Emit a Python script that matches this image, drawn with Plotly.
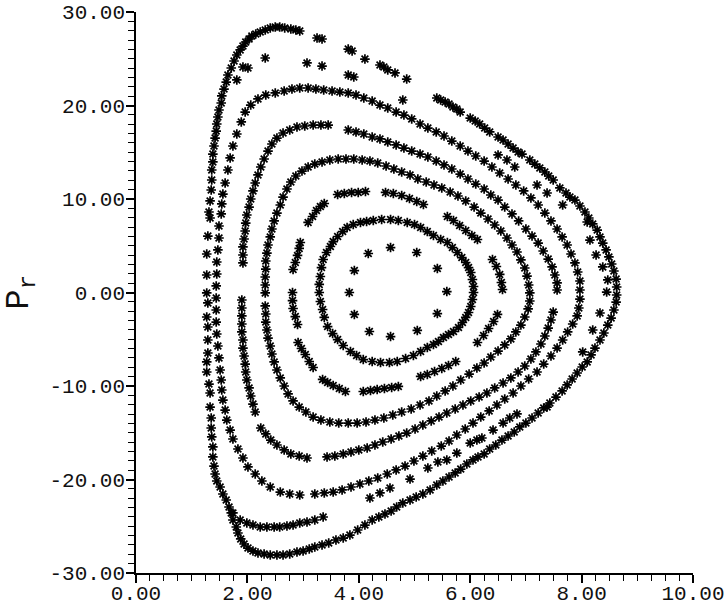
import plotly.graph_objects as go

# ---- axis ticks ----
x_ticks = [0, 2, 4, 6, 8, 10]
x_tick_labels = ["0.00", "2.00", "4.00", "6.00", "8.00", "10.00"]
y_ticks = [-30, -20, -10, 0, 10, 20, 30]
y_tick_labels = ["-30.00", "-20.00", "-10.00", "0.00", "10.00", "20.00", "30.00"]

# ---- Poincare section points (r, p_r) ----
ring_a = [(4.17, 4.17), (4.57, 4.81), (5.04, 4.28), (3.92, 2.35), (5.41, 2.57), (3.83, 0.0),
          (5.58, 0.10), (3.92, -2.35), (5.41, -2.25), (4.19, -4.17), (4.57, -4.71), (5.05, -4.06)]

ring_b = [(3.49, 4.92), (3.54, 5.45), (3.62, 5.99), (3.71, 6.52), (3.79, 6.95), (3.90, 7.27), (4.03, 7.49),
          (4.14, 7.59), (4.26, 7.70), (4.41, 7.81), (4.57, 7.81), (4.71, 7.70), (4.87, 7.49), (5.00, 7.27),
          (5.11, 6.95), (5.23, 6.52), (5.34, 6.10), (5.47, 5.67), (5.59, 5.35), (5.68, 4.81), (5.77, 4.28),
          (5.85, 3.74), (5.92, 3.21), (5.97, 2.67), (6.01, 2.14), (6.04, 1.39), (6.06, 0.64), (6.06, 0.0),
          (6.04, -0.75), (6.01, -1.50), (5.97, -2.14), (5.92, -2.67), (5.86, -3.21), (5.79, -3.74),
          (5.70, -4.17), (5.61, -4.49), (5.52, -4.81), (5.43, -5.24), (5.34, -5.56), (5.23, -5.88),
          (5.11, -6.31), (4.98, -6.74), (4.84, -7.06), (4.69, -7.38), (4.55, -7.49), (4.39, -7.49),
          (4.24, -7.38), (4.08, -7.17), (3.96, -6.74), (3.85, -6.31), (3.72, -5.67), (3.62, -5.03),
          (3.53, -4.39), (3.44, -3.64), (3.38, -2.67), (3.35, -1.82), (3.31, -0.96), (3.29, 0.0),
          (3.29, 0.86), (3.31, 1.71), (3.33, 2.67), (3.36, 3.53), (3.42, 4.28)]

ring_c = [(3.09, 7.49), (3.17, 8.13), (3.24, 8.77), (3.31, 9.20), (3.38, 9.52),
          (3.62, 10.48), (3.74, 10.59), (3.87, 10.70), (3.99, 10.70), (4.12, 10.80),
          (4.48, 10.70), (4.62, 10.59), (4.77, 10.37), (4.91, 10.05), (5.04, 9.73), (5.16, 9.41),
          (5.59, 8.13), (5.70, 7.70), (5.81, 7.17), (5.92, 6.63), (6.03, 6.10), (6.13, 5.67),
          (6.40, 3.53), (6.47, 2.78), (6.53, 1.93), (6.56, 1.07), (6.58, 0.32),
          (6.49, -2.35), (6.42, -3.10), (6.33, -3.85), (6.24, -4.60), (6.13, -5.35),
          (5.74, -7.38), (5.61, -7.81), (5.49, -8.13), (5.36, -8.45), (5.23, -8.77), (5.11, -8.98),
          (4.71, -10.05), (4.59, -10.16), (4.46, -10.27), (4.33, -10.37), (4.21, -10.48), (4.08, -10.59),
          (3.76, -10.59), (3.65, -10.27), (3.54, -9.95), (3.44, -9.63), (3.35, -9.30),
          (3.18, -8.02), (3.11, -7.38), (3.04, -6.63), (2.97, -5.99), (2.91, -5.35),
          (2.90, -3.42), (2.86, -2.57), (2.82, -1.71), (2.81, -0.86), (2.81, 0.0),
          (2.82, 2.46), (2.86, 3.21), (2.90, 3.96), (2.93, 4.71), (2.95, 5.35)]

ring_d = [(2.32, -0.05), (2.32, 0.80), (2.32, 1.66), (2.33, 2.51), (2.33, 3.37), (2.35, 4.22), (2.37, 5.08),
          (2.41, 5.94), (2.44, 6.79), (2.48, 7.65), (2.53, 8.50), (2.59, 9.36), (2.64, 10.21), (2.71, 11.07),
          (2.78, 11.82), (2.87, 12.46), (2.98, 12.99), (3.09, 13.42), (3.21, 13.74), (3.34, 13.96),
          (3.48, 14.17), (3.63, 14.28), (3.77, 14.28), (3.91, 14.28), (4.06, 14.17), (4.20, 14.06),
          (4.34, 13.85), (4.49, 13.53), (4.63, 13.21), (4.77, 12.89), (4.92, 12.57), (5.06, 12.14),
          (5.21, 11.82), (5.35, 11.50), (5.49, 11.18), (5.64, 10.75), (5.78, 10.32), (5.92, 9.79),
          (6.07, 9.14), (6.19, 8.50), (6.32, 7.86), (6.44, 7.22), (6.55, 6.58), (6.66, 5.83), (6.75, 5.08),
          (6.84, 4.33), (6.91, 3.48), (6.98, 2.62), (7.02, 1.76), (7.05, 0.80), (7.07, -0.05), (7.07, -0.91),
          (7.04, -1.76), (6.98, -2.62), (6.91, -3.48), (6.82, -4.22), (6.73, -4.97), (6.62, -5.61),
          (6.50, -6.26), (6.37, -6.90), (6.25, -7.54), (6.12, -8.07), (5.98, -8.72), (5.83, -9.36),
          (5.69, -10.00), (5.55, -10.53), (5.40, -11.07), (5.26, -11.60), (5.10, -12.03), (4.94, -12.46),
          (4.77, -12.78), (4.61, -13.10), (4.45, -13.42), (4.29, -13.64), (4.13, -13.85), (3.97, -13.96),
          (3.81, -13.96), (3.64, -13.96), (3.48, -13.85), (3.32, -13.64), (3.18, -13.32), (3.05, -12.78),
          (2.93, -12.25), (2.82, -11.60), (2.73, -10.85), (2.66, -10.00), (2.59, -9.14), (2.53, -8.29),
          (2.48, -7.43), (2.44, -6.58), (2.41, -5.72), (2.37, -4.87), (2.35, -4.01), (2.33, -3.16),
          (2.33, -2.30), (2.32, -1.44)]

ring_e = [(1.92, 3.16), (1.92, 4.01), (1.92, 4.87), (1.94, 5.72), (1.96, 6.58), (1.97, 7.43), (1.99, 8.29),
          (2.03, 9.14), (2.06, 10.00), (2.10, 10.86), (2.14, 11.71), (2.19, 12.57), (2.24, 13.42),
          (2.30, 14.28), (2.37, 15.13), (2.44, 15.88), (2.53, 16.52), (2.64, 17.06), (2.76, 17.38),
          (2.89, 17.70), (3.03, 17.81), (3.18, 17.91), (3.32, 17.91), (3.45, 17.91),
          (3.81, 17.38), (3.95, 17.17), (4.09, 16.95), (4.24, 16.63), (4.38, 16.42), (4.52, 16.10),
          (4.67, 15.78), (4.81, 15.45), (4.95, 15.13), (5.10, 14.81), (5.24, 14.49), (5.39, 14.06),
          (5.53, 13.64), (5.67, 13.21), (5.82, 12.67), (5.96, 12.14), (6.10, 11.60), (6.25, 11.07),
          (6.37, 10.43), (6.50, 9.89), (6.62, 9.14), (6.75, 8.40), (6.87, 7.65), (7.00, 6.79),
          (7.11, 6.04), (7.22, 5.29), (7.31, 4.44), (7.40, 3.58), (7.47, 2.73), (7.52, 1.87),
          (7.56, 1.02), (7.56, 0.27),
          (7.49, -2.09), (7.45, -2.94), (7.40, -3.80), (7.34, -4.65), (7.27, -5.51), (7.18, -6.36),
          (7.09, -7.11), (6.98, -7.86), (6.86, -8.50), (6.73, -9.14), (6.59, -9.68), (6.44, -10.21),
          (6.30, -10.75), (6.16, -11.18), (6.01, -11.60), (5.87, -12.03), (5.73, -12.46), (5.58, -12.89),
          (5.44, -13.32), (5.30, -13.74), (5.15, -14.17), (5.01, -14.60), (4.86, -15.03), (4.72, -15.35),
          (4.58, -15.67), (4.43, -15.99), (4.29, -16.31), (4.15, -16.63), (4.00, -16.84), (3.86, -17.06),
          (3.72, -17.27), (3.57, -17.49), (3.43, -17.59),
          (3.07, -17.70), (2.93, -17.49), (2.78, -17.27), (2.66, -16.84), (2.53, -16.31), (2.42, -15.78),
          (2.33, -15.13), (2.24, -14.49),
          (2.14, -12.78), (2.10, -11.93), (2.06, -11.07), (2.03, -10.21), (1.99, -9.36), (1.97, -8.50),
          (1.96, -7.65), (1.94, -6.79), (1.92, -5.94), (1.92, -5.08), (1.90, -4.22), (1.90, -3.37),
          (1.90, -2.51), (1.90, -1.66), (1.90, -0.80)]

ring_f = [(2.94, -21.66), (2.76, -21.55), (2.59, -21.34), (2.41, -20.80), (2.26, -20.16), (2.14, -19.41),
          (2.01, -18.66), (1.92, -17.70), (1.83, -16.74), (1.74, -15.67), (1.69, -14.71), (1.63, -13.64),
          (1.60, -12.57), (1.56, -11.50), (1.54, -10.43), (1.53, -9.36), (1.51, -8.29), (1.49, -7.00),
          (1.47, -5.72), (1.45, -4.44), (1.44, -3.16), (1.44, -1.87), (1.44, -0.59), (1.44, 0.70),
          (1.45, 1.98), (1.45, 3.26), (1.47, 4.55), (1.49, 5.83), (1.49, 7.11), (1.53, 8.40), (1.54, 9.47),
          (1.56, 10.53), (1.60, 11.71), (1.65, 13.10), (1.69, 14.39), (1.74, 15.67), (1.81, 16.95),
          (1.89, 18.24), (1.96, 19.30), (2.06, 20.05), (2.19, 20.70), (2.33, 21.12), (2.50, 21.34),
          (2.66, 21.55), (2.80, 21.76), (2.94, 21.87), (3.09, 21.87), (3.23, 21.76), (3.37, 21.66),
          (3.52, 21.55), (3.66, 21.44), (3.81, 21.34), (3.95, 21.12), (4.09, 20.80), (4.24, 20.48),
          (4.38, 20.05), (4.52, 19.73), (4.67, 19.30), (4.81, 18.98), (4.95, 18.56), (5.10, 18.02),
          (5.24, 17.59), (5.39, 17.17), (5.53, 16.74), (5.67, 16.20), (5.82, 15.67), (5.96, 15.13),
          (6.10, 14.60), (6.25, 14.06), (6.39, 13.42), (6.53, 12.78), (6.68, 12.14), (6.82, 11.50),
          (6.96, 10.86), (7.09, 10.11), (7.22, 9.36), (7.34, 8.50), (7.45, 7.65), (7.56, 6.79),
          (7.65, 5.94), (7.74, 5.08), (7.81, 4.12), (7.88, 3.16), (7.93, 2.19), (7.97, 1.23), (7.97, 0.27),
          (7.97, -0.70), (7.95, -1.66), (7.92, -2.51), (7.84, -3.37), (7.75, -4.22), (7.66, -5.08),
          (7.56, -5.94), (7.45, -6.79), (7.32, -7.65), (7.20, -8.50), (7.05, -9.25), (6.91, -10.00),
          (6.77, -10.75), (6.62, -11.39), (6.48, -12.03), (6.34, -12.67), (6.19, -13.32), (6.05, -13.96),
          (5.91, -14.60), (5.76, -15.24), (5.62, -15.88), (5.48, -16.42), (5.31, -16.95), (5.15, -17.49),
          (4.99, -18.02), (4.83, -18.56), (4.67, -18.98), (4.51, -19.41), (4.34, -19.84), (4.18, -20.16),
          (4.02, -20.48), (3.86, -20.80), (3.70, -21.12), (3.54, -21.34), (3.38, -21.44), (3.21, -21.55)]

ring_g = [(1.81, 22.73), (1.92, 24.12), (2.01, 24.01), (2.32, 25.08), (3.07, 24.55), (3.34, 24.22),
          (3.81, 23.26), (3.91, 23.05), (4.79, 20.59), (6.50, 14.71), (6.66, 14.17), (6.80, 13.42),
          (7.20, 11.50), (7.38, 10.64), (7.66, 9.36), (8.10, 7.54),
          (1.74, -23.58), (1.87, -24.33), (1.99, -24.65), (2.10, -24.87), (2.23, -25.08), (2.35, -25.08),
          (2.48, -25.08), (2.58, -25.08), (2.71, -24.97), (2.82, -24.87), (2.94, -24.65), (3.07, -24.55),
          (3.21, -24.33), (3.36, -24.01),
          (4.20, -21.98), (4.38, -21.44), (4.56, -20.91), (4.92, -19.95), (5.24, -18.77), (5.42, -18.13),
          (5.58, -17.91), (5.76, -17.17), (6.00, -16.10), (6.12, -15.78), (6.21, -15.56), (6.41, -14.71),
          (6.59, -13.96), (6.71, -13.42), (6.84, -12.99), (7.38, -12.25)]

ring_h = [(2.94, 27.97), (2.87, 28.07), (2.78, 28.18), (2.67, 28.29), (2.58, 28.40), (2.50, 28.40),
          (2.41, 28.29), (2.32, 28.07), (2.23, 27.86), (2.15, 27.65), (2.08, 27.43), (2.03, 27.11),
          (1.97, 26.79), (1.92, 26.36), (1.87, 25.94), (1.81, 25.40), (1.76, 24.76), (1.71, 24.01),
          (1.65, 23.26), (1.62, 22.51), (1.58, 21.76), (1.54, 21.02), (1.53, 20.27), (1.49, 19.52),
          (1.47, 18.77), (1.45, 18.02), (1.44, 17.27), (1.42, 16.52), (1.40, 15.67), (1.38, 14.81),
          (1.38, 13.96), (1.36, 13.10), (1.36, 12.03), (1.35, 10.96), (1.33, 9.79), (1.31, 8.61),
          (1.33, 7.97), (1.29, 6.04), (1.27, 4.12), (1.27, 1.87), (1.27, -0.05), (1.29, -1.12),
          (1.27, -2.62), (1.29, -3.69), (1.29, -5.08), (1.29, -6.47), (1.27, -7.43), (1.27, -8.50),
          (1.31, -9.79), (1.33, -10.75), (1.33, -12.25), (1.35, -13.42), (1.35, -14.49), (1.36, -15.45),
          (1.38, -16.52), (1.38, -17.59), (1.40, -18.56), (1.42, -19.41), (1.45, -20.16), (1.51, -20.80),
          (1.56, -21.55), (1.62, -22.19), (1.67, -22.94), (1.71, -23.58), (1.74, -24.33), (1.80, -25.08),
          (1.83, -25.72), (1.88, -26.36), (1.94, -26.90), (2.01, -27.33), (2.10, -27.65), (2.19, -27.86),
          (2.30, -27.97), (2.41, -28.07), (2.53, -28.07), (2.64, -28.07), (2.76, -27.97), (2.89, -27.75),
          (3.00, -27.65), (3.11, -27.43), (3.21, -27.22), (3.34, -27.00), (3.46, -26.79), (3.59, -26.47),
          (3.72, -26.26), (3.84, -25.94), (3.98, -25.40), (4.11, -24.87), (4.24, -24.33), (4.36, -24.01),
          (4.47, -23.69), (4.58, -23.37), (4.68, -22.94), (4.79, -22.51), (4.92, -22.19), (5.03, -21.87),
          (5.15, -21.55), (5.28, -21.12), (5.40, -20.59), (5.51, -20.16), (5.62, -19.73), (5.73, -19.30),
          (5.83, -18.88), (5.94, -18.34), (6.05, -17.91), (6.14, -17.59), (6.25, -17.27), (6.35, -16.74),
          (6.46, -16.31), (6.57, -15.78), (6.68, -15.35), (6.79, -14.92), (6.89, -14.38), (7.00, -13.96),
          (7.11, -13.42), (7.22, -12.89), (7.32, -12.35), (7.43, -11.82), (7.54, -11.18), (7.65, -10.53),
          (7.74, -9.89), (7.83, -9.25), (7.92, -8.61), (8.01, -7.97), (8.10, -7.43), (8.17, -6.68),
          (8.24, -5.94), (8.33, -5.08), (8.40, -4.33), (8.47, -3.48), (8.53, -2.73), (8.58, -1.87),
          (8.62, -1.02), (8.63, -0.27), (8.63, 0.59), (8.62, 1.44), (8.58, 2.30), (8.54, 3.05),
          (8.49, 3.80), (8.44, 4.55), (8.38, 5.29), (8.33, 5.94), (8.28, 6.68), (8.20, 7.33), (8.13, 7.97),
          (8.06, 8.61), (7.97, 9.25), (7.88, 9.89), (7.79, 10.21), (7.72, 10.64), (7.61, 11.18),
          (7.49, 12.03), (7.41, 12.46), (7.34, 12.89), (7.25, 13.32), (7.16, 13.74), (7.07, 14.17),
          (6.93, 14.81), (6.86, 15.03), (6.77, 15.45), (6.68, 15.88), (6.59, 16.31), (6.50, 16.63),
          (6.35, 17.17), (6.26, 17.59), (6.17, 18.02), (6.09, 18.34), (6.00, 18.66), (5.82, 19.30),
          (5.76, 19.62), (5.69, 19.84), (5.62, 20.16), (5.55, 20.37), (5.47, 20.59), (5.40, 20.80),
          (4.86, 22.83), (4.65, 23.48), (4.52, 23.80), (4.45, 24.12), (4.38, 24.33), (4.11, 24.97),
          (3.88, 25.83), (3.81, 26.04), (3.34, 27.11), (3.25, 27.22),
          (8.38, 2.73), (8.47, 1.34), (8.45, 0.05), (8.33, -2.19), (8.20, -4.01), (8.26, 4.01),
          (8.15, 5.61), (8.02, -6.36)]

rings = [ring_a, ring_b, ring_c, ring_d, ring_e, ring_f, ring_g, ring_h]

fig = go.Figure()
for pts in rings:
    fig.add_trace(go.Scatter(
        x=[p[0] for p in pts], y=[p[1] for p in pts], mode="markers",
        marker=dict(symbol="asterisk-open", size=8, color="black",
                    line=dict(width=1.7, color="black")),
        showlegend=False, hoverinfo="skip", cliponaxis=False))

tick_font = dict(family="Liberation Mono", size=21, color="#111111")

fig.update_xaxes(range=[0, 10], tickmode="array", tickvals=x_ticks, ticktext=x_tick_labels,
                 automargin=False, ticklabelstandoff=-8,
                 showline=True, linecolor="black", linewidth=1.5, ticks="outside", ticklen=8,
                 tickwidth=1.5, tickcolor="black", showgrid=False, zeroline=False, tickfont=tick_font,
                 minor=dict(dtick=0.25, tick0=0, ticks="outside", ticklen=6, tickwidth=1.2,
                            tickcolor="black", showgrid=False))
fig.update_yaxes(range=[-30, 30], tickmode="array", tickvals=y_ticks, ticktext=y_tick_labels,
                 automargin=False, ticklabelstandoff=-3,
                 showline=True, linecolor="black", linewidth=1.5, ticks="outside", ticklen=8,
                 tickwidth=1.5, tickcolor="black", showgrid=False, zeroline=False, tickfont=tick_font,
                 minor=dict(dtick=1, tick0=0, ticks="outside", ticklen=6, tickwidth=1.2,
                            tickcolor="black", showgrid=False))

fig.add_annotation(text="P<sub>r</sub>", x=-0.208, y=0.5, xref="paper", yref="paper",
                   textangle=-90, showarrow=False, xanchor="center", yanchor="middle",
                   font=dict(family="Liberation Mono", size=34, color="#111111"))

fig.update_layout(width=727, height=608, margin=dict(l=136, r=34, t=12, b=35, autoexpand=False),
                  paper_bgcolor="white", plot_bgcolor="white", showlegend=False)

fig.write_html("out.html")
